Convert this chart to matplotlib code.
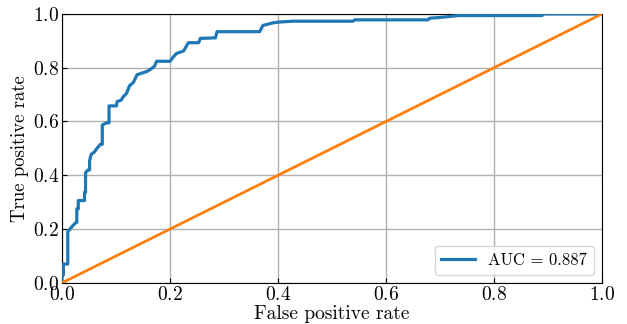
import matplotlib
matplotlib.use('Agg')
import matplotlib.pyplot as plt

plt.rcParams['font.family'] = 'serif'
plt.rcParams['font.serif'] = ['cmr10']
plt.rcParams['mathtext.fontset'] = 'cm'
plt.rcParams['axes.formatter.use_mathtext'] = True

# ROC curve points (step curve)
fpr = [0.0, 0.0, 0.0025, 0.0025, 0.0106, 0.0106, 0.0186, 0.026, 0.0273, 0.0273,
       0.030, 0.030, 0.040, 0.0416, 0.0416, 0.0435, 0.0435, 0.048, 0.051, 0.051,
       0.054, 0.060, 0.0646, 0.071, 0.0745, 0.0745, 0.082, 0.087, 0.087, 0.1006,
       0.102, 0.11, 0.113, 0.119, 0.125, 0.132, 0.139, 0.145, 0.157, 0.163,
       0.171, 0.175, 0.2, 0.206, 0.212, 0.225, 0.234, 0.253, 0.256, 0.284,
       0.287, 0.366, 0.372, 0.391, 0.403, 0.428, 0.539, 0.542, 0.678, 0.681,
       0.706, 0.734, 0.889, 0.892, 1.0]
tpr = [0.0, 0.03, 0.03, 0.07, 0.07, 0.19, 0.21, 0.225, 0.225, 0.275,
       0.275, 0.306, 0.306, 0.306, 0.337, 0.337, 0.41, 0.42, 0.42, 0.455,
       0.478, 0.487, 0.5, 0.515, 0.515, 0.587, 0.595, 0.595, 0.658, 0.658,
       0.674, 0.68, 0.692, 0.703, 0.733, 0.745, 0.774, 0.778, 0.786, 0.793,
       0.805, 0.824, 0.824, 0.84, 0.853, 0.862, 0.893, 0.893, 0.909, 0.911,
       0.934, 0.934, 0.957, 0.967, 0.970, 0.973, 0.973, 0.978, 0.978, 0.984,
       0.988, 0.994, 0.994, 1.0, 1.0]
auc = 0.887

diag = [0, 1]

fig = plt.figure(figsize=(6.27, 3.24), dpi=100)
ax = fig.add_axes([0.099, 0.127, 0.861, 0.830])

ax.plot(fpr, tpr, color='tab:blue', lw=2.3, label=f'AUC = {auc}')
ax.plot(diag, diag, color='tab:orange', lw=2.0)

ax.set_xlim(0, 1)
ax.set_ylim(0, 1)
ax.set_xlabel('False positive rate', fontsize=14, labelpad=1)
ax.set_ylabel('True positive rate', fontsize=13.5, labelpad=3)
ax.tick_params(direction='in', labelsize=14, pad=2)
ax.grid(True, color='#b0b0b0', lw=1)
ax.set_axisbelow(True)
for s in ax.spines.values():
    s.set_zorder(1.5)
ax.legend(loc='lower right', fontsize=12)

fig.savefig('out.png', dpi=100)
